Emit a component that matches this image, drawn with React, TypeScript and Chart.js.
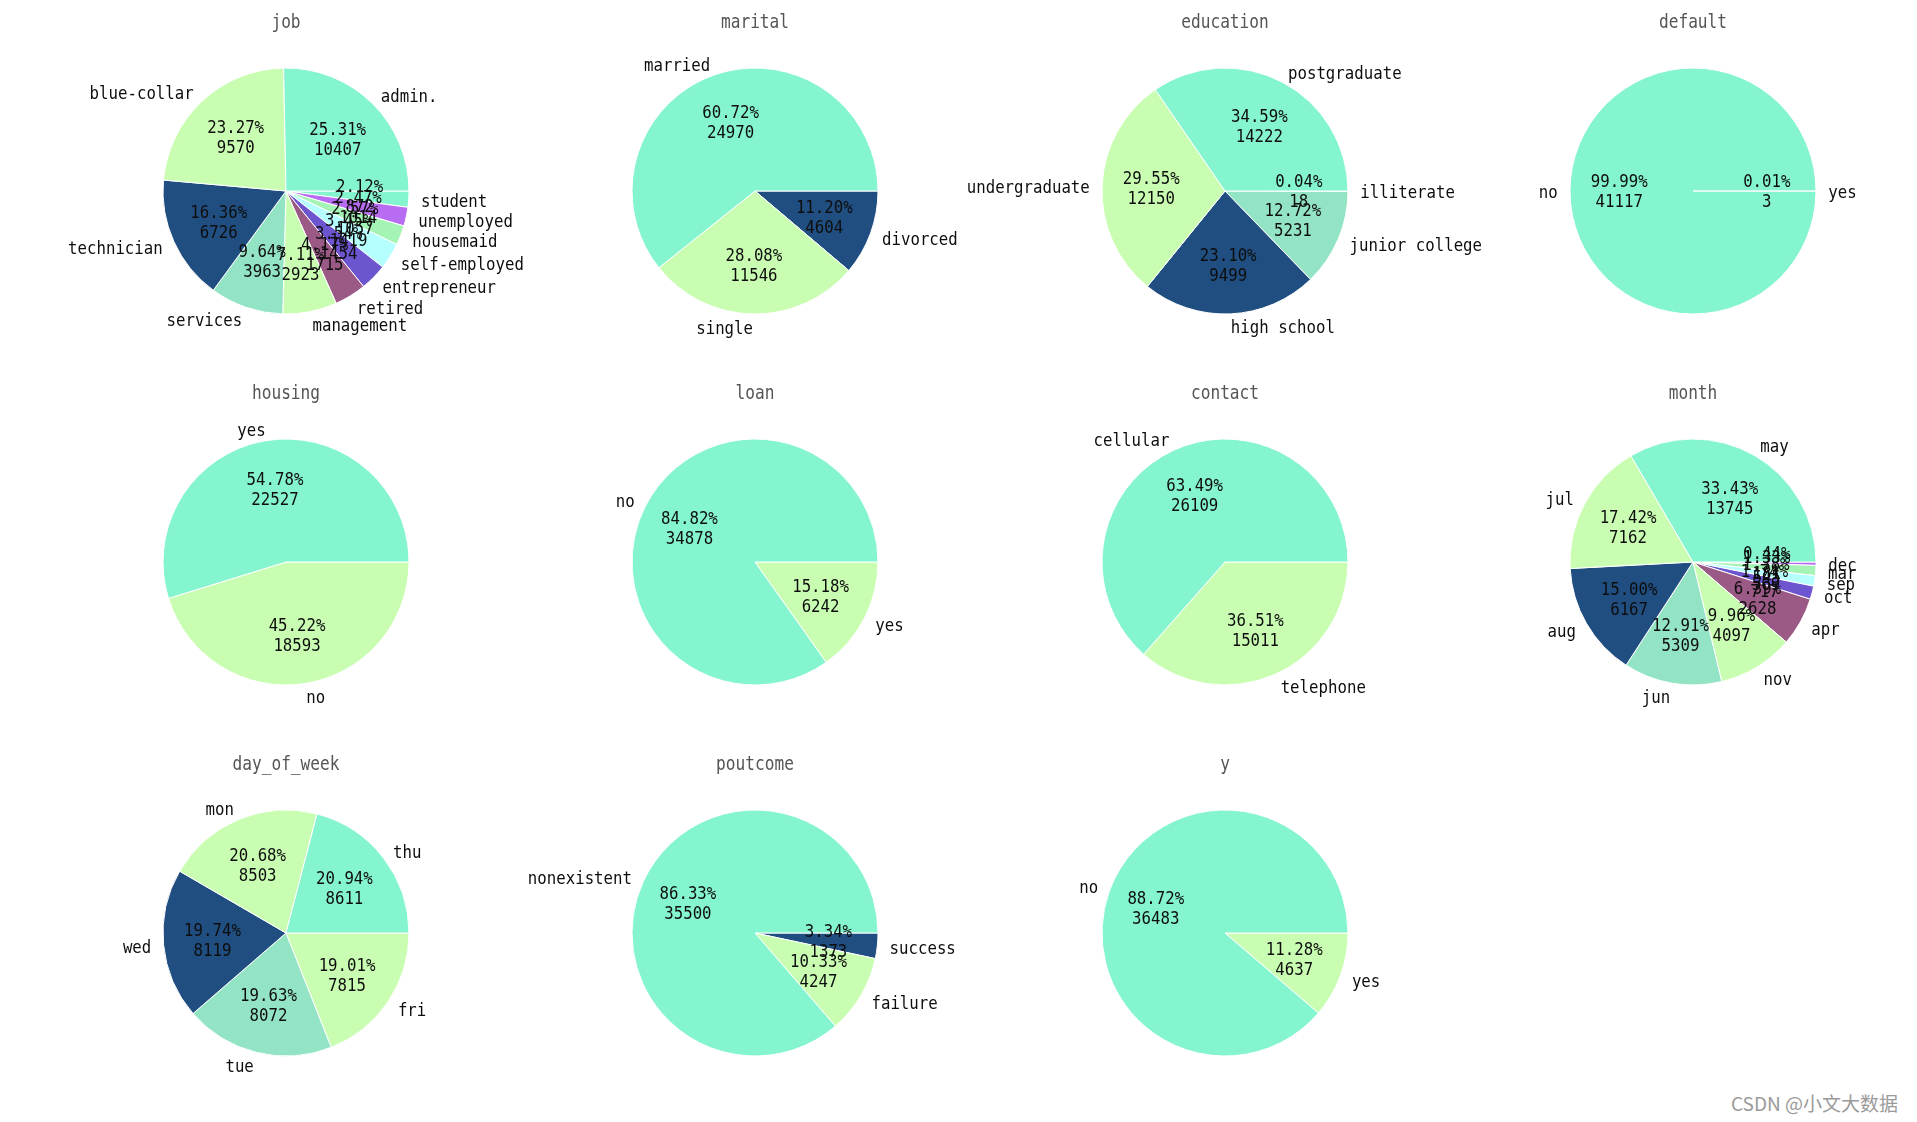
import React, { useEffect, useRef } from 'react';
import { Chart, registerables } from 'chart.js';

Chart.register(...registerables);

// ---------- data ----------
const jobLabels = ['admin.', 'blue-collar', 'technician', 'services', 'management', 'retired', 'entrepreneur', 'self-employed', 'housemaid', 'unemployed', 'student'];
const jobValues = [10407, 9570, 6726, 3963, 2923, 1715, 1454, 1419, 1057, 1014, 872];

const maritalLabels = ['married', 'single', 'divorced'];
const maritalValues = [24970, 11546, 4604];

const educationLabels = ['postgraduate', 'undergraduate', 'high school', 'junior college', 'illiterate'];
const educationValues = [14222, 12150, 9499, 5231, 18];

const defaultLabels = ['no', 'yes'];
const defaultValues = [41117, 3];

const housingLabels = ['yes', 'no'];
const housingValues = [22527, 18593];

const loanLabels = ['no', 'yes'];
const loanValues = [34878, 6242];

const contactLabels = ['cellular', 'telephone'];
const contactValues = [26109, 15011];

const monthLabels = ['may', 'jul', 'aug', 'jun', 'nov', 'apr', 'oct', 'sep', 'mar', 'dec'];
const monthValues = [13745, 7162, 6167, 5309, 4097, 2628, 717, 569, 545, 181];

const dayLabels = ['thu', 'mon', 'wed', 'tue', 'fri'];
const dayValues = [8611, 8503, 8119, 8072, 7815];

const poutcomeLabels = ['nonexistent', 'failure', 'success'];
const poutcomeValues = [35500, 4247, 1373];

const yLabels = ['no', 'yes'];
const yValues = [36483, 4637];

const titles = ['job', 'marital', 'education', 'default', 'housing', 'loan', 'contact', 'month', 'day_of_week', 'poutcome', 'y'];
const labelSets = [jobLabels, maritalLabels, educationLabels, defaultLabels, housingLabels, loanLabels, contactLabels, monthLabels, dayLabels, poutcomeLabels, yLabels];
const valueSets = [jobValues, maritalValues, educationValues, defaultValues, housingValues, loanValues, contactValues, monthValues, dayValues, poutcomeValues, yValues];

// ---------- styles / layout ----------
const PALETTE = ['#84F5CE', '#C9FEB2', '#214E80', '#93E4C4', '#C9FEB2', '#9B5A85', '#6D55CF', '#B5FFFE', '#A4F4B5', '#B86CF2'];
const COL_X = [286, 755, 1225, 1693];
const ROW_Y = [191, 562, 933];
const R = 123;
const CW = 640;
const CH = 380;
const LABEL_FONT = '18.5px "DejaVu Sans Mono"';
const TITLE_FONT = '19px "DejaVu Sans Mono"';
const SX = 0.85;

function drawText(ctx: CanvasRenderingContext2D, text: string, x: number, y: number, align: CanvasTextAlign, font: string, color: string) {
  ctx.save();
  ctx.translate(x, y);
  ctx.scale(SX, 1);
  ctx.font = font;
  ctx.fillStyle = color;
  ctx.textAlign = align;
  ctx.textBaseline = 'middle';
  ctx.fillText(text, 0, 0);
  ctx.restore();
}

function PieCell({ title, labels, values, cx, cy }: { title: string; labels: string[]; values: number[]; cx: number; cy: number }) {
  const ref = useRef<HTMLCanvasElement | null>(null);
  useEffect(() => {
    if (!ref.current) return;
    const n = values.length;
    const total = values.reduce((a, b) => a + b, 0);
    const colors = values.map((_, i) => PALETTE[i % PALETTE.length]);
    const revValues = [...values].reverse();
    const revLabels = [...labels].reverse();
    const revColors = [...colors].reverse();

    const textPlugin = {
      id: 'mplText',
      afterDraw(chart: any) {
        const ctx = chart.ctx as CanvasRenderingContext2D;
        const arcs = chart.getDatasetMeta(0).data;
        let centerX = chart.width / 2;
        let centerY = chart.height / 2;
        for (let i = 0; i < n; i++) {
          const arc = arcs[n - 1 - i];
          const p = arc.getProps(['x', 'y', 'startAngle', 'endAngle', 'outerRadius'], true);
          centerX = p.x;
          centerY = p.y;
          const mid = (p.startAngle + p.endAngle) / 2;
          const rr = p.outerRadius;
          const c = Math.cos(mid);
          const s = Math.sin(mid);
          const lx = p.x + c * 1.1 * rr;
          const ly = p.y + s * 1.1 * rr + 2.5;
          drawText(ctx, labels[i], lx, ly, c > 0 ? 'left' : 'right', LABEL_FONT, '#0d0d0d');
          const px = p.x + c * 0.6 * rr;
          const py = p.y + s * 0.6 * rr + 1.5;
          const pct = ((values[i] / total) * 100).toFixed(2) + '%';
          drawText(ctx, pct, px, py - 10, 'center', LABEL_FONT, '#0d0d0d');
          drawText(ctx, String(values[i]), px, py + 10, 'center', LABEL_FONT, '#0d0d0d');
        }
        drawText(ctx, title, centerX, centerY - 167.5, 'center', TITLE_FONT, '#555');
      },
    };

    const chart = new Chart(ref.current, {
      type: 'pie',
      data: {
        labels: revLabels,
        datasets: [
          {
            data: revValues,
            backgroundColor: revColors,
            borderColor: '#ffffff',
            borderWidth: 1,
            hoverOffset: 0,
          } as any,
        ],
      },
      options: {
        responsive: false,
        maintainAspectRatio: false,
        animation: false,
        events: [],
        radius: R,
        rotation: 90,
        layout: { padding: 0 },
        plugins: {
          legend: { display: false },
          tooltip: { enabled: false },
          title: { display: false },
        },
      } as any,
      plugins: [textPlugin],
    });
    return () => chart.destroy();
  }, [title, labels, values]);

  return (
    <canvas
      ref={ref}
      width={CW}
      height={CH}
      style={{ position: 'absolute', left: cx - CW / 2, top: cy - CH / 2, width: CW, height: CH }}
    />
  );
}

export default function App() {
  return (
    <div style={{ position: 'absolute', left: 0, top: 0, width: 1917, height: 1122, background: '#ffffff', overflow: 'hidden' }}>
      {titles.map((t, i) => (
        <PieCell
          key={t}
          title={t}
          labels={labelSets[i]}
          values={valueSets[i]}
          cx={COL_X[i % 4]}
          cy={ROW_Y[Math.floor(i / 4)]}
        />
      ))}
      <div
        style={{
          position: 'absolute',
          left: 1731,
          top: 1093,
          lineHeight: '20px',
          fontSize: 19,
          fontFamily: '"Noto Sans CJK SC", "Noto Sans", sans-serif',
          color: '#9a9a9a',
          whiteSpace: 'nowrap',
        }}
      >
        CSDN @小文大数据
      </div>
    </div>
  );
}
